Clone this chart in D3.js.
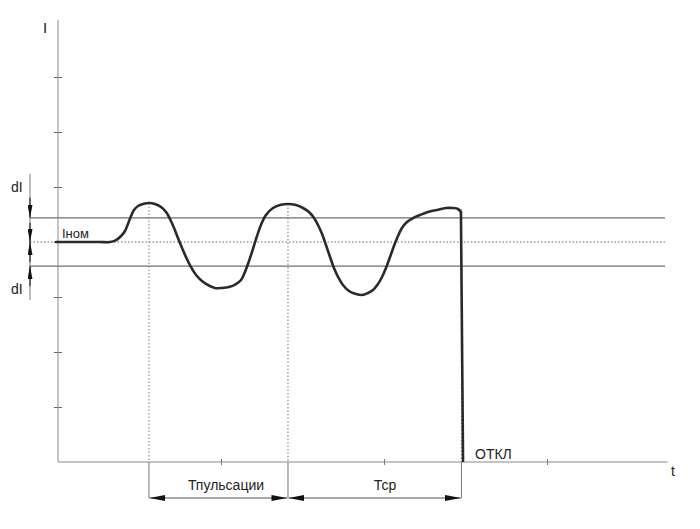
<!DOCTYPE html>
<html>
<head>
<meta charset="utf-8">
<script src="https://cdn.jsdelivr.net/npm/d3@7/dist/d3.min.js"></script>
<style>
  html, body { margin: 0; padding: 0; background: #fff; }
  svg { display: block; }
  text { font-family: "Liberation Sans", Arial, sans-serif; fill: #222; }
</style>
</head>
<body>
<div id="chart"></div>
<script>
// ---- data (time units, current units) ----
const timeT = [-0.012, 0.258, 0.319, 0.356, 0.387, 0.411, 0.429, 0.448, 0.466, 0.491, 0.521, 0.558, 0.595, 0.632, 0.663, 0.687, 0.712, 0.736, 0.761, 0.785, 0.816, 0.847, 0.883, 0.920, 0.963, 1.006, 1.049, 1.092, 1.123, 1.147, 1.172, 1.196, 1.221, 1.245, 1.276, 1.319, 1.362, 1.411, 1.460, 1.503, 1.540, 1.571, 1.595, 1.620, 1.644, 1.669, 1.693, 1.718, 1.748, 1.785, 1.828, 1.865, 1.902, 1.933, 1.963, 1.988, 2.012, 2.037, 2.061, 2.086, 2.110, 2.141, 2.178, 2.221, 2.270, 2.325, 2.380, 2.423, 2.454, 2.472];
const currentI = [4.000, 4.000, 4.000, 4.036, 4.109, 4.200, 4.327, 4.473, 4.582, 4.655, 4.691, 4.709, 4.691, 4.636, 4.545, 4.418, 4.255, 4.073, 3.891, 3.727, 3.545, 3.400, 3.291, 3.218, 3.164, 3.164, 3.182, 3.236, 3.309, 3.455, 3.655, 3.873, 4.109, 4.309, 4.491, 4.618, 4.673, 4.691, 4.673, 4.618, 4.545, 4.436, 4.309, 4.145, 3.945, 3.727, 3.527, 3.364, 3.218, 3.109, 3.055, 3.036, 3.073, 3.127, 3.236, 3.364, 3.527, 3.727, 3.927, 4.109, 4.255, 4.364, 4.436, 4.491, 4.545, 4.582, 4.618, 4.618, 4.600, 4.545];
const tripT = [2.472, 2.485];
const tripI = [4.545, 0];

const nominalI = 4.0;
const deltaI = 0.44;
const yTicks = [1, 2, 3, 4, 5, 6, 7];
const xTicks = [1, 2, 3];
const markT = [0.558, 1.411, 2.475];   // pulse peaks / trip moment
const markI = [4.709, 4.691, 4.6];
const intervalLabels = ["Тпульсации", "Тср"];
const labelI = "I", labelT = "t", labelNom = "Iном", labelDI = "dI", labelOff = "ОТКЛ";

// ---- layout ----
const W = 700, H = 529;
const x = d3.scaleLinear().domain([0, 1]).range([58, 221]);
const y = d3.scaleLinear().domain([0, 1]).range([462, 407]);
const xMax = 3.74, yMax = 8.04;
const lineL = 30, lineR = 665;

const svg = d3.select("#chart").append("svg").attr("width", W).attr("height", H);

const defs = svg.append("defs");
function marker(id, len, wid) {
  defs.append("marker").attr("id", id)
    .attr("viewBox", `0 0 ${len} ${wid}`).attr("refX", len).attr("refY", wid / 2)
    .attr("markerWidth", len).attr("markerHeight", wid).attr("markerUnits", "userSpaceOnUse")
    .attr("orient", "auto")
    .append("path").attr("d", `M0,0L${len},${wid / 2}L0,${wid}Z`).attr("fill", "#111");
}
marker("arrV", 13, 5);
marker("arrH", 16, 6);

const gray = "#8a8a8a";

// band lines
[nominalI + deltaI, nominalI - deltaI].forEach(v => {
  svg.append("line").attr("x1", lineL).attr("x2", lineR).attr("y1", y(v)).attr("y2", y(v))
    .attr("stroke", "#6f6f6f").attr("stroke-width", 1.2);
});
svg.append("line").attr("x1", lineL).attr("x2", lineR).attr("y1", y(nominalI)).attr("y2", y(nominalI))
  .attr("stroke", "#666").attr("stroke-width", 1).attr("stroke-dasharray", "1.5,2");

// axes
const xAxis = d3.axisBottom(x).tickValues(xTicks).tickSize(6).tickFormat("");
const gx = svg.append("g").attr("transform", `translate(0,${y(0) - 3})`).call(xAxis);
gx.select(".domain").remove();
gx.selectAll("line").attr("stroke", "#777");
svg.append("line").attr("x1", x(0)).attr("x2", x(xMax)).attr("y1", y(0)).attr("y2", y(0))
  .attr("stroke", gray).attr("stroke-width", 1);

const yAxis = d3.axisLeft(y).tickValues(yTicks).tickSize(8).tickFormat("");
const gy = svg.append("g").attr("transform", `translate(${x(0) + 4},0)`).call(yAxis);
gy.select(".domain").remove();
gy.selectAll("line").attr("stroke", "#666");
svg.append("line").attr("x1", x(0)).attr("x2", x(0)).attr("y1", y(0)).attr("y2", y(yMax))
  .attr("stroke", gray).attr("stroke-width", 1);

// vertical dotted marks and bracket legs
markT.forEach((t, i) => {
  svg.append("line").attr("x1", x(t)).attr("x2", x(t)).attr("y1", y(markI[i])).attr("y2", y(0))
    .attr("stroke", "#777").attr("stroke-width", 1).attr("stroke-dasharray", "1.5,2");
  svg.append("line").attr("x1", x(t)).attr("x2", x(t)).attr("y1", y(0)).attr("y2", 498)
    .attr("stroke", "#777").attr("stroke-width", 1);
});

// interval arrows
for (let i = 0; i < 2; i++) {
  const a = x(markT[i]), b = x(markT[i + 1]), mid = (a + b) / 2;
  svg.append("line").attr("x1", mid).attr("x2", a + 0.5).attr("y1", 498).attr("y2", 498)
    .attr("stroke", "#555").attr("stroke-width", 1).attr("marker-end", "url(#arrH)");
  svg.append("line").attr("x1", mid).attr("x2", b - 0.5).attr("y1", 498).attr("y2", 498)
    .attr("stroke", "#555").attr("stroke-width", 1).attr("marker-end", "url(#arrH)");
}
svg.append("text").attr("x", 226).attr("y", 490).attr("text-anchor", "middle")
  .attr("font-size", 14).text(intervalLabels[0]);
svg.append("text").attr("x", 385).attr("y", 490).attr("text-anchor", "middle")
  .attr("font-size", 14).text(intervalLabels[1]);

// dI dimension arrows
const ax = 30;
svg.append("line").attr("x1", ax).attr("x2", ax).attr("y1", 174).attr("y2", 300)
  .attr("stroke", "#777").attr("stroke-width", 1);
const up = y(nominalI + deltaI), nom = y(nominalI), lo = y(nominalI - deltaI);
[[up - 20, up], [up + 5, nom], [lo - 4, nom], [lo + 20, lo]].forEach(([a, b]) => {
  svg.append("line").attr("x1", ax).attr("x2", ax).attr("y1", a).attr("y2", b)
    .attr("stroke", "#111").attr("stroke-width", 1).attr("marker-end", "url(#arrV)");
});

// curve
const line = d3.line().x(d => x(d[0])).y(d => y(d[1])).curve(d3.curveCatmullRom.alpha(0.5));
svg.append("path").datum(timeT.map((t, i) => [t, currentI[i]]))
  .attr("d", line).attr("fill", "none").attr("stroke", "#2a2a2a").attr("stroke-width", 2.6)
  .attr("stroke-linejoin", "round").attr("stroke-linecap", "round");
svg.append("path").datum(tripT.map((t, i) => [t, tripI[i]]))
  .attr("d", d3.line().x(d => x(d[0])).y(d => y(d[1])))
  .attr("fill", "none").attr("stroke", "#2a2a2a").attr("stroke-width", 2.6);

// labels
svg.append("text").attr("x", 43).attr("y", 33).attr("font-size", 15).text(labelI);
svg.append("text").attr("x", 671).attr("y", 476).attr("font-size", 14).text(labelT);
svg.append("text").attr("x", 62).attr("y", 238).attr("font-size", 13).text(labelNom);
svg.append("text").attr("x", 11).attr("y", 192).attr("font-size", 14).text(labelDI);
svg.append("text").attr("x", 11).attr("y", 294).attr("font-size", 14).text(labelDI);
svg.append("text").attr("x", 475).attr("y", 459).attr("font-size", 14).text(labelOff);
</script>
</body>
</html>
